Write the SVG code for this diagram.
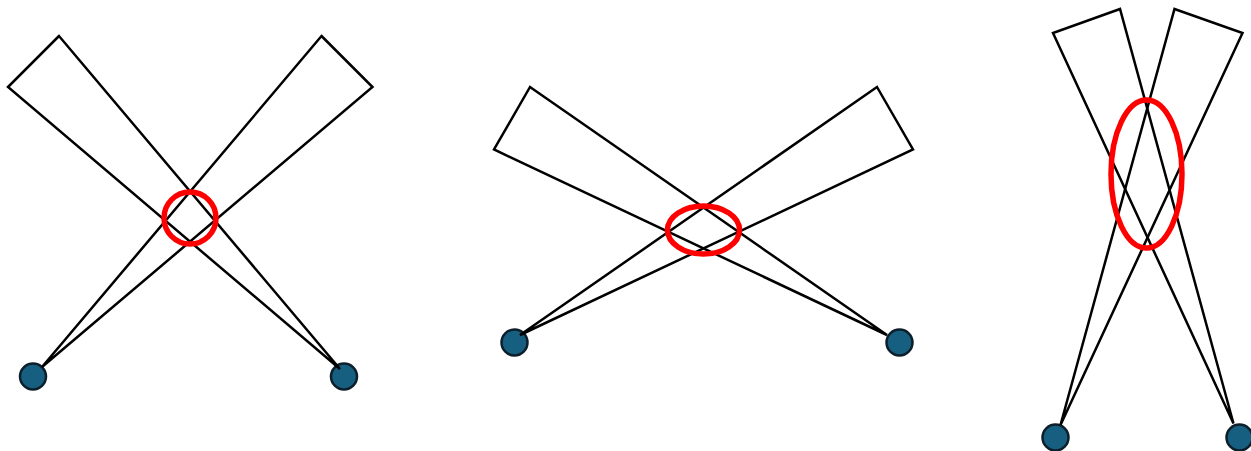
<svg xmlns="http://www.w3.org/2000/svg" width="1251" height="451" viewBox="0 0 1251 451">
<style>
.node{fill:#175f80;stroke:#0d1f2a;stroke-width:2.5}
.beam{fill:none;stroke:#000;stroke-width:2.5;stroke-linejoin:miter}
.focus{fill:none;stroke:#f00;stroke-width:5.5}
</style>
<rect width="1251" height="451" fill="#fff"/>
<g id="panel1-nodes">
<circle id="p1-left" class="node" cx="33" cy="376.5" r="13"/>
<circle id="p1-right" class="node" cx="344" cy="376.5" r="13"/>
</g>
<g id="panel2-nodes">
<circle id="p2-left" class="node" cx="514.5" cy="342.5" r="13"/>
<circle id="p2-right" class="node" cx="899.5" cy="342.5" r="13"/>
</g>
<g id="panel3-nodes">
<circle id="p3-left" class="node" cx="1055.5" cy="437.5" r="13"/>
<circle id="p3-right" class="node" cx="1239.5" cy="437.5" r="13"/>
</g>
<g id="connectors">
<polygon class="beam" points="59,36 8,87 340,369"/>
<polygon class="beam" points="321.5,36 372.5,87 42,367"/>
<polygon class="beam" points="530,87 494,149.5 887,335"/>
<polygon class="beam" points="877,87 913,149.5 520,335"/>
<polygon class="beam" points="1120,9 1053,33 1233.5,423.5"/>
<polygon class="beam" points="1174.5,9 1242.5,33 1060.5,425"/>
</g>
<g id="focus-marks">
<circle id="p1-focus" class="focus" cx="190" cy="218" r="26"/>
<ellipse id="p2-focus" class="focus" cx="703.5" cy="230" rx="36" ry="24"/>
<ellipse id="p3-focus" class="focus" cx="1146.5" cy="174" rx="35.5" ry="74"/>
</g>
</svg>
